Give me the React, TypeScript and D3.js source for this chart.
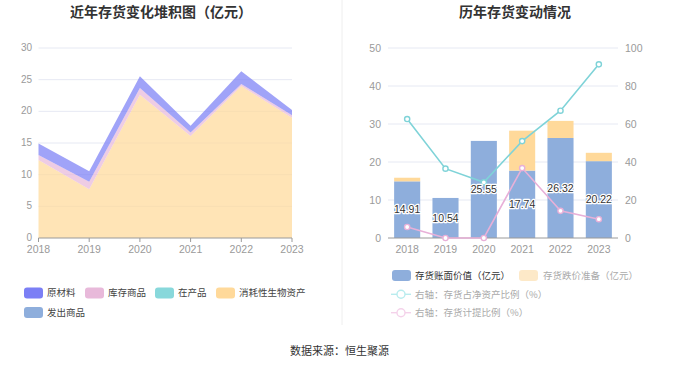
import React from "react";
import * as d3 from "d3";

const years = ["2018", "2019", "2020", "2021", "2022", "2023"];

// Left stacked area (亿元)
const rawMaterial = [1.81, 1.64, 1.85, 1.09, 2.02, 0.82]; // 原材料
const stockGoods = [0.8, 1.2, 1.1, 0.55, 0.3, 0.4]; // 库存商品
const wip = [0, 0, 0, 0, 0, 0]; // 在产品
const bioAssets = [12.3, 7.7, 22.6, 16.1, 24.0, 19.0]; // 消耗性生物资产
const shipped = [0, 0, 0, 0, 0, 0]; // 发出商品
const leftTicks = [0, 5, 10, 15, 20, 25, 30];

// Right chart
const bookValue = [14.91, 10.54, 25.55, 17.74, 26.32, 20.22];
const impairment = [0.95, 0, 0, 10.5, 4.5, 2.2];
const netAssetRatio = [62.6, 36.5, 29.3, 51.0, 67.0, 91.4];
const provisionRatio = [5.8, 0, 0, 36.8, 14.3, 9.9];
const rightLeftTicks = [0, 10, 20, 30, 40, 50];
const rightRightTicks = [0, 20, 40, 60, 80, 100];

const FONT = "'Noto Sans CJK SC', 'Noto Sans', sans-serif";
const NUMFONT = "'Liberation Sans', Arial, sans-serif";
const GRID = "#e6e9f3";
const AXIS_TXT = "#9a9a9a";

export default function App() {
  // left scales
  const xL = d3.scalePoint<string>().domain(years).range([38.5, 292]);
  const yL = d3.scaleLinear().domain([0, 30]).range([238, 48]);

  const layers = [
    { name: "消耗性生物资产", vals: bioAssets, color: "#ffd99a" },
    { name: "在产品", vals: wip, color: "#88d8db" },
    { name: "库存商品", vals: stockGoods, color: "#e8b9da" },
    { name: "原材料", vals: rawMaterial, color: "#7b7ff5" },
    { name: "发出商品", vals: shipped, color: "#8eaedc" },
  ];
  const tableRows = years.map((y, i) => {
    const r: any = { year: y };
    layers.forEach((l) => (r[l.name] = l.vals[i]));
    return r;
  });
  const stack = d3.stack().keys(layers.map((l) => l.name))(tableRows);
  const area = d3
    .area<any>()
    .x((d: any) => xL(d.data.year) as number)
    .y0((d: any) => yL(d[0]))
    .y1((d: any) => yL(d[1]));

  const leftLegend = [
    { name: "原材料", color: "#7b7ff5", x: 24, y: 293 },
    { name: "库存商品", color: "#e8b9da", x: 85, y: 293 },
    { name: "在产品", color: "#88d8db", x: 155, y: 293 },
    { name: "消耗性生物资产", color: "#ffd99a", x: 216, y: 293 },
    { name: "发出商品", color: "#8eaedc", x: 24, y: 312.5 },
  ];

  // right scales
  const xR = d3.scaleBand<string>().domain(years).range([388, 618]);
  const yR = d3.scaleLinear().domain([0, 50]).range([238, 48]);
  const yR2 = d3.scaleLinear().domain([0, 100]).range([238, 48]);
  const bw = xR.bandwidth() * 0.68;
  const cx = (y: string) => (xR(y) as number) + xR.bandwidth() / 2;

  const line1 = d3
    .line<number>()
    .x((_, i) => cx(years[i]))
    .y((d) => yR2(d));

  return (
    <div style={{ position: "absolute", left: 0, top: 0 }}>
      <svg width={680} height={367} style={{ display: "block" }}>
        <rect width={680} height={367} fill="#fff" />
        {/* titles */}
        <text x={161} y={17} textAnchor="middle" fontFamily={FONT} fontSize={14} fontWeight="bold" fill="#333">
          近年存货变化堆积图（亿元）
        </text>
        <text x={515} y={17} textAnchor="middle" fontFamily={FONT} fontSize={14} fontWeight="bold" fill="#333">
          历年存货变动情况
        </text>
        {/* divider */}
        <line x1={342} x2={342} y1={0} y2={325} stroke="#eeeeee" strokeWidth={1} />

        {/* LEFT CHART */}
        {leftTicks.map((t) => (
          <g key={"lg" + t}>
            {t > 0 && <line x1={38.5} x2={292} y1={yL(t)} y2={yL(t)} stroke={GRID} strokeWidth={1} />}
            <text x={32} y={yL(t) - 0.5} dy="0.35em" textAnchor="end" fontFamily={NUMFONT} fontSize={10} fill={AXIS_TXT}>
              {t}
            </text>
          </g>
        ))}
        {stack.map((s, i) => (
          <path key={"ar" + i} d={area(s as any) as string} fill={layers[i].color} fillOpacity={0.72} />
        ))}
        <line x1={38.5} x2={292} y1={238} y2={238} stroke="#9a9a9a" strokeWidth={1} />
        {years.map((y) => (
          <g key={"lx" + y}>
            <line x1={xL(y)} x2={xL(y)} y1={238} y2={242} stroke="#9a9a9a" />
            <text x={xL(y)} y={252.5} textAnchor="middle" fontFamily={NUMFONT} fontSize={10.5} fill={AXIS_TXT}>
              {y}
            </text>
          </g>
        ))}
        {leftLegend.map((l) => (
          <g key={"ll" + l.name}>
            <rect x={l.x} y={l.y - 5.5} width={19} height={11} rx={3} fill={l.color} />
            <text x={l.x + 23} y={l.y} dy="0.36em" fontFamily={FONT} fontSize={9.5} fill="#444">
              {l.name}
            </text>
          </g>
        ))}

        {/* RIGHT CHART */}
        {rightLeftTicks.map((t, i) => (
          <g key={"rg" + t}>
            {t > 0 && <line x1={388} x2={618} y1={yR(t)} y2={yR(t)} stroke={GRID} strokeWidth={1} />}
            <text x={381} y={yR(t)} dy="0.35em" textAnchor="end" fontFamily={NUMFONT} fontSize={10.5} fill={AXIS_TXT}>
              {t}
            </text>
            <text x={625} y={yR2(rightRightTicks[i])} dy="0.35em" textAnchor="start" fontFamily={NUMFONT} fontSize={10.5} fill={AXIS_TXT}>
              {rightRightTicks[i]}
            </text>
          </g>
        ))}
        {years.map((y, i) => (
          <g key={"bar" + y}>
            <rect x={cx(y) - bw / 2} y={yR(bookValue[i])} width={bw} height={yR(0) - yR(bookValue[i])} fill="#8eaedc" />
            {impairment[i] > 0 && (
              <rect
                x={cx(y) - bw / 2}
                y={yR(bookValue[i] + impairment[i])}
                width={bw}
                height={yR(bookValue[i]) - yR(bookValue[i] + impairment[i])}
                fill="#ffd99a"
              />
            )}
          </g>
        ))}
        <line x1={388} x2={618} y1={238} y2={238} stroke="#9a9a9a" strokeWidth={1} />
        {years.map((y) => (
          <text key={"rx" + y} x={cx(y)} y={252.5} textAnchor="middle" fontFamily={NUMFONT} fontSize={10.5} fill={AXIS_TXT}>
            {y}
          </text>
        ))}
        <path d={line1(netAssetRatio) as string} fill="none" stroke="#7fd3d8" strokeWidth={1.6} />
        <path d={line1(provisionRatio) as string} fill="none" stroke="#e8b0d8" strokeWidth={1.6} />
        {netAssetRatio.map((v, i) => (
          <circle key={"c1" + i} cx={cx(years[i])} cy={yR2(v)} r={2.6} fill="#fff" stroke="#7fd3d8" strokeWidth={1.4} />
        ))}
        {provisionRatio.map((v, i) => (
          <circle key={"c2" + i} cx={cx(years[i])} cy={yR2(v)} r={2.6} fill="#fff" stroke="#e8b0d8" strokeWidth={1.4} />
        ))}
        {bookValue.map((v, i) => (
          <text
            key={"lbl" + i}
            x={cx(years[i])}
            y={yR(v / 2)}
            dy="0.35em"
            textAnchor="middle"
            fontFamily={NUMFONT}
            fontSize={10.5}
            fill="#333"
            stroke="#fff"
            strokeWidth={2.5}
            paintOrder="stroke"
            strokeLinejoin="round"
          >
            {v.toFixed(2)}
          </text>
        ))}

        {/* right legend */}
        <rect x={392} y={270} width={19} height={11} rx={3} fill="#8eaedc" />
        <text x={415} y={275.5} dy="0.36em" fontFamily={FONT} fontSize={9.5} fill="#333">
          存货账面价值（亿元）
        </text>
        <rect x={519} y={270} width={19} height={11} rx={3} fill="#fde9c8" />
        <text x={543} y={275.5} dy="0.36em" fontFamily={FONT} fontSize={9.5} fill="#aaa">
          存货跌价准备（亿元）
        </text>
        <line x1={391} x2={411} y1={294.3} y2={294.3} stroke="#b8ecee" strokeWidth={1.4} />
        <circle cx={401} cy={294.3} r={4} fill="#fff" stroke="#b8ecee" strokeWidth={1.4} />
        <text x={415} y={294.3} dy="0.36em" fontFamily={FONT} fontSize={9.5} fill="#aaa">
          右轴：存货占净资产比例（%）
        </text>
        <line x1={391} x2={411} y1={312.7} y2={312.7} stroke="#f4d2ea" strokeWidth={1.4} />
        <circle cx={401} cy={312.7} r={4} fill="#fff" stroke="#f4d2ea" strokeWidth={1.4} />
        <text x={415} y={312.7} dy="0.36em" fontFamily={FONT} fontSize={9.5} fill="#aaa">
          右轴：存货计提比例（%）
        </text>

        {/* footer */}
        <text x={339.5} y={351} dy="0.35em" textAnchor="middle" fontFamily={FONT} fontSize={11} fill="#333">
          数据来源：恒生聚源
        </text>
      </svg>
    </div>
  );
}
